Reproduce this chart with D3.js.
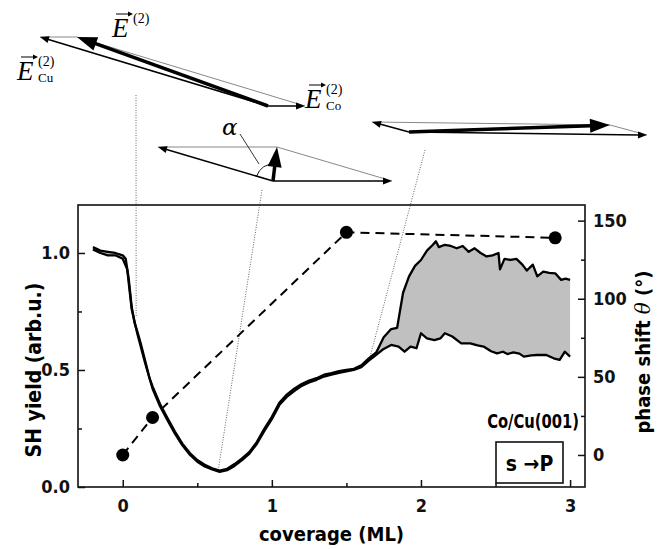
<!DOCTYPE html>
<html>
<head>
<meta charset="utf-8">
<script src="https://cdn.jsdelivr.net/npm/d3@7"></script>
<style>
  body { margin: 0; background: #fff; }
  .tick text { font-family: "DejaVu Sans Condensed", "DejaVu Sans", sans-serif; font-weight: bold; font-size: 18px; fill: #111; }
  .tick line { stroke: #111; stroke-width: 1.5; }
</style>
</head>
<body>
<svg id="chart" width="667" height="549"></svg>
<script>
// SH yield band: upper and lower edges (arb.u.)
var upperCov = [-0.2, -0.15, -0.1, -0.05, 0, 0.02, 0.04, 0.06, 0.08, 0.1, 0.12, 0.15, 0.18, 0.2, 0.25,
  0.3, 0.35, 0.4, 0.45, 0.5, 0.55, 0.6, 0.65, 0.7, 0.75, 0.8, 0.85, 0.9, 0.95, 1.0, 1.05, 1.1, 1.15,
  1.2, 1.25, 1.3, 1.35, 1.4, 1.45, 1.5, 1.55, 1.6, 1.65, 1.7, 1.75, 1.8, 1.84, 1.88, 1.92, 1.96, 2.0,
  2.04, 2.08, 2.1, 2.12, 2.16, 2.2, 2.24, 2.28, 2.32, 2.36, 2.4, 2.44, 2.48, 2.52, 2.53, 2.56, 2.6,
  2.64, 2.68, 2.71, 2.75, 2.78, 2.82, 2.86, 2.9, 2.94, 2.97, 3.0];
var upperYield = [1.025, 1.01, 1.005, 1.0, 0.99, 0.975, 0.89, 0.77, 0.70, 0.66, 0.615, 0.54, 0.465, 0.43, 0.355,
  0.295, 0.237, 0.185, 0.145, 0.115, 0.095, 0.08, 0.07, 0.078, 0.098, 0.122, 0.15, 0.193, 0.25, 0.30, 0.36, 0.395, 0.42,
  0.44, 0.455, 0.465, 0.48, 0.487, 0.495, 0.5, 0.505, 0.52, 0.55, 0.575, 0.64, 0.675, 0.68, 0.83, 0.9, 0.945, 0.97,
  1.01, 1.035, 1.05, 1.025, 1.035, 1.03, 1.02, 1.03, 1.005, 1.02, 1.0, 0.985, 0.99, 1.0, 0.93, 0.975, 0.97,
  0.975, 0.95, 0.925, 0.95, 0.9, 0.92, 0.915, 0.913, 0.885, 0.89, 0.885];

var lowerCov = [-0.2, -0.15, -0.1, -0.05, 0, 0.03, 0.06, 0.1, 0.15, 0.2, 0.25, 0.3, 0.35, 0.4, 0.45, 0.5,
  0.55, 0.6, 0.65, 0.7, 0.75, 0.8, 0.85, 0.9, 0.95, 1.0, 1.05, 1.1, 1.15, 1.2, 1.25, 1.3, 1.35, 1.4, 1.45,
  1.5, 1.55, 1.6, 1.65, 1.7, 1.75, 1.8, 1.85, 1.89, 1.93, 1.97, 2.0, 2.04, 2.09, 2.13, 2.16, 2.21, 2.27,
  2.33, 2.38, 2.42, 2.47, 2.51, 2.55, 2.58, 2.62, 2.66, 2.69, 2.74, 2.78, 2.84, 2.89, 2.93, 2.965, 3.0];
var lowerYield = [1.015, 1.0, 0.99, 0.99, 0.975, 0.93, 0.76, 0.65, 0.53, 0.42, 0.345, 0.285, 0.228, 0.178, 0.138, 0.108,
  0.088, 0.075, 0.065, 0.072, 0.09, 0.115, 0.143, 0.185, 0.24, 0.29, 0.35, 0.385, 0.41, 0.432, 0.447, 0.458, 0.472, 0.48, 0.488,
  0.494, 0.5, 0.512, 0.54, 0.565, 0.59, 0.607, 0.6, 0.578, 0.6, 0.593, 0.657, 0.635, 0.628, 0.635, 0.657, 0.643, 0.614,
  0.614, 0.605, 0.6, 0.58, 0.571, 0.578, 0.568, 0.575, 0.57, 0.557, 0.562, 0.564, 0.564, 0.55, 0.543, 0.578, 0.557];

// phase shift points (degrees)
var phaseCov = [0, 0.2, 1.5, 2.9];
var phaseDeg = [0, 24, 142.5, 139];

// tick values
var xTicks = [0, 1, 2, 3], xMinor = [0.5, 1.5, 2.5];
var yTicks = [0, 0.5, 1.0], yMinor = [0.25, 0.75];
var rTicks = [0, 50, 100, 150], rMinor = [25, 75, 125];

// vector sketches: E_Cu and E_Co (px), E = E_Cu + E_Co
var sketchOrigin = [[268, 106], [273, 181], [409, 132]];
var cuVec = [[-228, -69], [-115, -34], [-37, -10]];
var coVec = [[37, 0], [119, 0], [238, 3]];
// guide lines: sketch point -> point on the curve (coverage, yield)
var guideFrom = [[136, 95], [262, 190], [425, 150]];
var guideTo = [[0.09, 0.73], [0.64, 0.07], [1.66, 0.56]];

var svg = d3.select("#chart");
var pLeft = 78, pRight = 585, pTop = 205, pBottom = 487;

var x = d3.scaleLinear().domain([-0.3, 3.1]).range([pLeft, pRight]);
var y = d3.scaleLinear().domain([0, 1.205]).range([pBottom, pTop]);
var yr = d3.scaleLinear().domain([-20.5, 160]).range([pBottom, pTop]);

// ---- guide lines (dotted)
svg.selectAll("line.guide")
  .data(guideFrom)
  .enter().append("line")
    .attr("class", "guide")
    .attr("x1", function(d) { return d[0]; })
    .attr("y1", function(d) { return d[1]; })
    .attr("x2", function(d, i) { return x(guideTo[i][0]); })
    .attr("y2", function(d, i) { return y(guideTo[i][1]); })
    .style("stroke", "#666")
    .style("stroke-width", 1)
    .style("stroke-dasharray", "1,1.5");

// ---- band
var upperPts = upperCov.map(function(c, i) { return [c, upperYield[i]]; });
var lowerPts = lowerCov.map(function(c, i) { return [c, lowerYield[i]]; });
var line = d3.line().x(function(d) { return x(d[0]); }).y(function(d) { return y(d[1]); });

svg.append("path")
  .attr("d", line(upperPts.concat(lowerPts.slice().reverse())) + "Z")
  .style("fill", "#c0c0c0")
  .style("stroke", "none");

svg.selectAll("path.edge")
  .data([upperPts, lowerPts])
  .enter().append("path")
    .attr("class", "edge")
    .attr("d", line)
    .style("fill", "none")
    .style("stroke", "#000")
    .style("stroke-width", 2.3)
    .style("stroke-linejoin", "round");

// ---- phase points
var phasePts = phaseCov.map(function(c, i) { return [c, phaseDeg[i]]; });
svg.append("path")
  .attr("d", d3.line().x(function(d) { return x(d[0]); }).y(function(d) { return yr(d[1]); })(phasePts))
  .style("fill", "none")
  .style("stroke", "#000")
  .style("stroke-width", 2)
  .style("stroke-dasharray", "9,6");

svg.selectAll("circle.phase")
  .data(phasePts)
  .enter().append("circle")
    .attr("class", "phase")
    .attr("cx", function(d) { return x(d[0]); })
    .attr("cy", function(d) { return yr(d[1]); })
    .attr("r", 6.5)
    .style("fill", "#000");

// ---- axes (ticks inward)
function addAxis(axis, tr) {
  var g = svg.append("g").attr("transform", tr).call(axis);
  g.select(".domain").remove();
  return g;
}
addAxis(d3.axisBottom(x).tickValues(xTicks).tickSize(-7).tickPadding(12).tickFormat(d3.format("d")), "translate(0," + pBottom + ")");
addAxis(d3.axisBottom(x).tickValues(xMinor).tickSize(-4).tickFormat(""), "translate(0," + pBottom + ")");
addAxis(d3.axisLeft(y).tickValues(yTicks).tickSize(-7).tickPadding(8).tickFormat(d3.format(".1f")), "translate(" + pLeft + ",0)");
addAxis(d3.axisLeft(y).tickValues(yMinor).tickSize(-4).tickFormat(""), "translate(" + pLeft + ",0)");
addAxis(d3.axisRight(yr).tickValues(rTicks).tickSize(-7).tickPadding(8).tickFormat(d3.format("d")), "translate(" + pRight + ",0)");
addAxis(d3.axisRight(yr).tickValues(rMinor).tickSize(-4).tickFormat(""), "translate(" + pRight + ",0)");

svg.append("rect")
  .attr("x", pLeft).attr("y", pTop)
  .attr("width", pRight - pLeft).attr("height", pBottom - pTop)
  .style("fill", "none").style("stroke", "#111").style("stroke-width", 1.6);

var sans = '"DejaVu Sans Condensed", "DejaVu Sans", sans-serif';
svg.append("text")
  .attr("x", (pLeft + pRight) / 2).attr("y", 541)
  .attr("text-anchor", "middle")
  .style("font-family", sans).style("font-weight", "bold").style("font-size", "20px")
  .text("coverage (ML)");

svg.append("text")
  .attr("transform", "translate(41,370) rotate(-90)")
  .attr("text-anchor", "middle")
  .style("font-family", sans).style("font-weight", "bold").style("font-size", "21px")
  .text("SH yield (arb.u.)");

var rlab = svg.append("text")
  .attr("transform", "translate(650,352) rotate(-90)")
  .attr("text-anchor", "middle")
  .style("font-family", sans).style("font-weight", "bold").style("font-size", "20px");
rlab.append("tspan").text("phase shift ");
rlab.append("tspan").style("font-family", '"DejaVu Serif", serif').style("font-style", "italic").style("font-weight", "normal").text("θ");
rlab.append("tspan").text(" (°)");

svg.append("text")
  .attr("transform", "translate(579,428) scale(0.82,1)")
  .attr("text-anchor", "end")
  .style("font-family", sans).style("font-weight", "bold").style("font-size", "20px")
  .text("Co/Cu(001)");

svg.append("rect")
  .attr("x", 496).attr("y", 442).attr("width", 67).attr("height", 41)
  .style("fill", "#fff").style("stroke", "#111").style("stroke-width", 1.6);
svg.append("text")
  .attr("x", 529.5).attr("y", 471)
  .attr("text-anchor", "middle")
  .style("font-family", sans).style("font-weight", "bold").style("font-size", "21px")
  .text("s →P");

// ---- vector sketches
function arrow(g, x0, y0, x1, y1, w, hl, hw) {
  var dx = x1 - x0, dy = y1 - y0, L = Math.sqrt(dx * dx + dy * dy);
  var ux = dx / L, uy = dy / L;
  var bx = x1 - ux * hl, by = y1 - uy * hl;
  g.append("line")
    .attr("x1", x0).attr("y1", y0).attr("x2", bx + ux * 1).attr("y2", by + uy * 1)
    .style("stroke", "#000").style("stroke-width", w);
  g.append("path")
    .attr("d", "M" + x1 + "," + y1 +
      "L" + (bx - uy * hw) + "," + (by + ux * hw) +
      "L" + (bx + uy * hw) + "," + (by - ux * hw) + "Z")
    .style("fill", "#000");
}

sketchOrigin.forEach(function(o, i) {
  var g = svg.append("g").attr("class", "sketch");
  var cu = [o[0] + cuVec[i][0], o[1] + cuVec[i][1]];
  var co = [o[0] + coVec[i][0], o[1] + coVec[i][1]];
  var e = [o[0] + cuVec[i][0] + coVec[i][0], o[1] + cuVec[i][1] + coVec[i][1]];
  // parallelogram sides
  g.append("path")
    .attr("d", "M" + cu[0] + "," + cu[1] + "L" + e[0] + "," + e[1] + "L" + co[0] + "," + co[1])
    .style("fill", "none").style("stroke", "#888").style("stroke-width", 1);
  arrow(g, o[0], o[1], cu[0], cu[1], 1.5, 9, 3.5);
  arrow(g, o[0], o[1], co[0], co[1], 1.5, 9, 3.5);
  arrow(g, o[0], o[1], e[0], e[1], 3.5, 20, 7);
});

// angle alpha on the middle sketch
(function() {
  var o = sketchOrigin[1];
  var a0 = Math.atan2(cuVec[1][1], cuVec[1][0]);
  var e = [cuVec[1][0] + coVec[1][0], cuVec[1][1] + coVec[1][1]];
  var a1 = Math.atan2(e[1], e[0]);
  var r = 17;
  svg.append("path")
    .attr("d", "M" + (o[0] + r * Math.cos(a0)) + "," + (o[1] + r * Math.sin(a0)) +
      "A" + r + "," + r + " 0 0,1 " + (o[0] + r * Math.cos(a1)) + "," + (o[1] + r * Math.sin(a1)))
    .style("fill", "none").style("stroke", "#000").style("stroke-width", 0.9);
  svg.append("line")
    .attr("x1", 240).attr("y1", 134).attr("x2", 259).attr("y2", 164)
    .style("stroke", "#000").style("stroke-width", 0.8);
  svg.append("text")
    .attr("x", 222).attr("y", 135)
    .style("font-family", '"DejaVu Serif", serif').style("font-style", "italic").style("font-size", "23px")
    .text("α");
})();

// vector labels: italic E with arrow, superscript (2), optional subscript
var serif = '"Liberation Serif", "DejaVu Serif", serif';
function vecLabel(x0, y0, sub) {
  var g = svg.append("g");
  g.append("text")
    .attr("x", x0).attr("y", y0)
    .style("font-family", serif).style("font-style", "italic").style("font-size", "27px")
    .text("E");
  g.append("line")
    .attr("x1", x0 + 4).attr("y1", y0 - 23).attr("x2", x0 + 18).attr("y2", y0 - 23)
    .style("stroke", "#000").style("stroke-width", 1);
  g.append("path")
    .attr("d", "M" + (x0 + 21) + "," + (y0 - 23) + "l-5,-2.5l0,5Z")
    .style("fill", "#000");
  g.append("text")
    .attr("x", x0 + 21).attr("y", y0 - 14)
    .style("font-family", serif).style("font-size", "14px")
    .text("(2)");
  if (sub) {
    g.append("text")
      .attr("x", x0 + 21).attr("y", y0 + 2)
      .style("font-family", serif).style("font-size", "13px")
      .text(sub);
  }
}
vecLabel(112, 37, null);
vecLabel(17, 80, "Cu");
vecLabel(305, 108, "Co");
</script>
</body>
</html>
